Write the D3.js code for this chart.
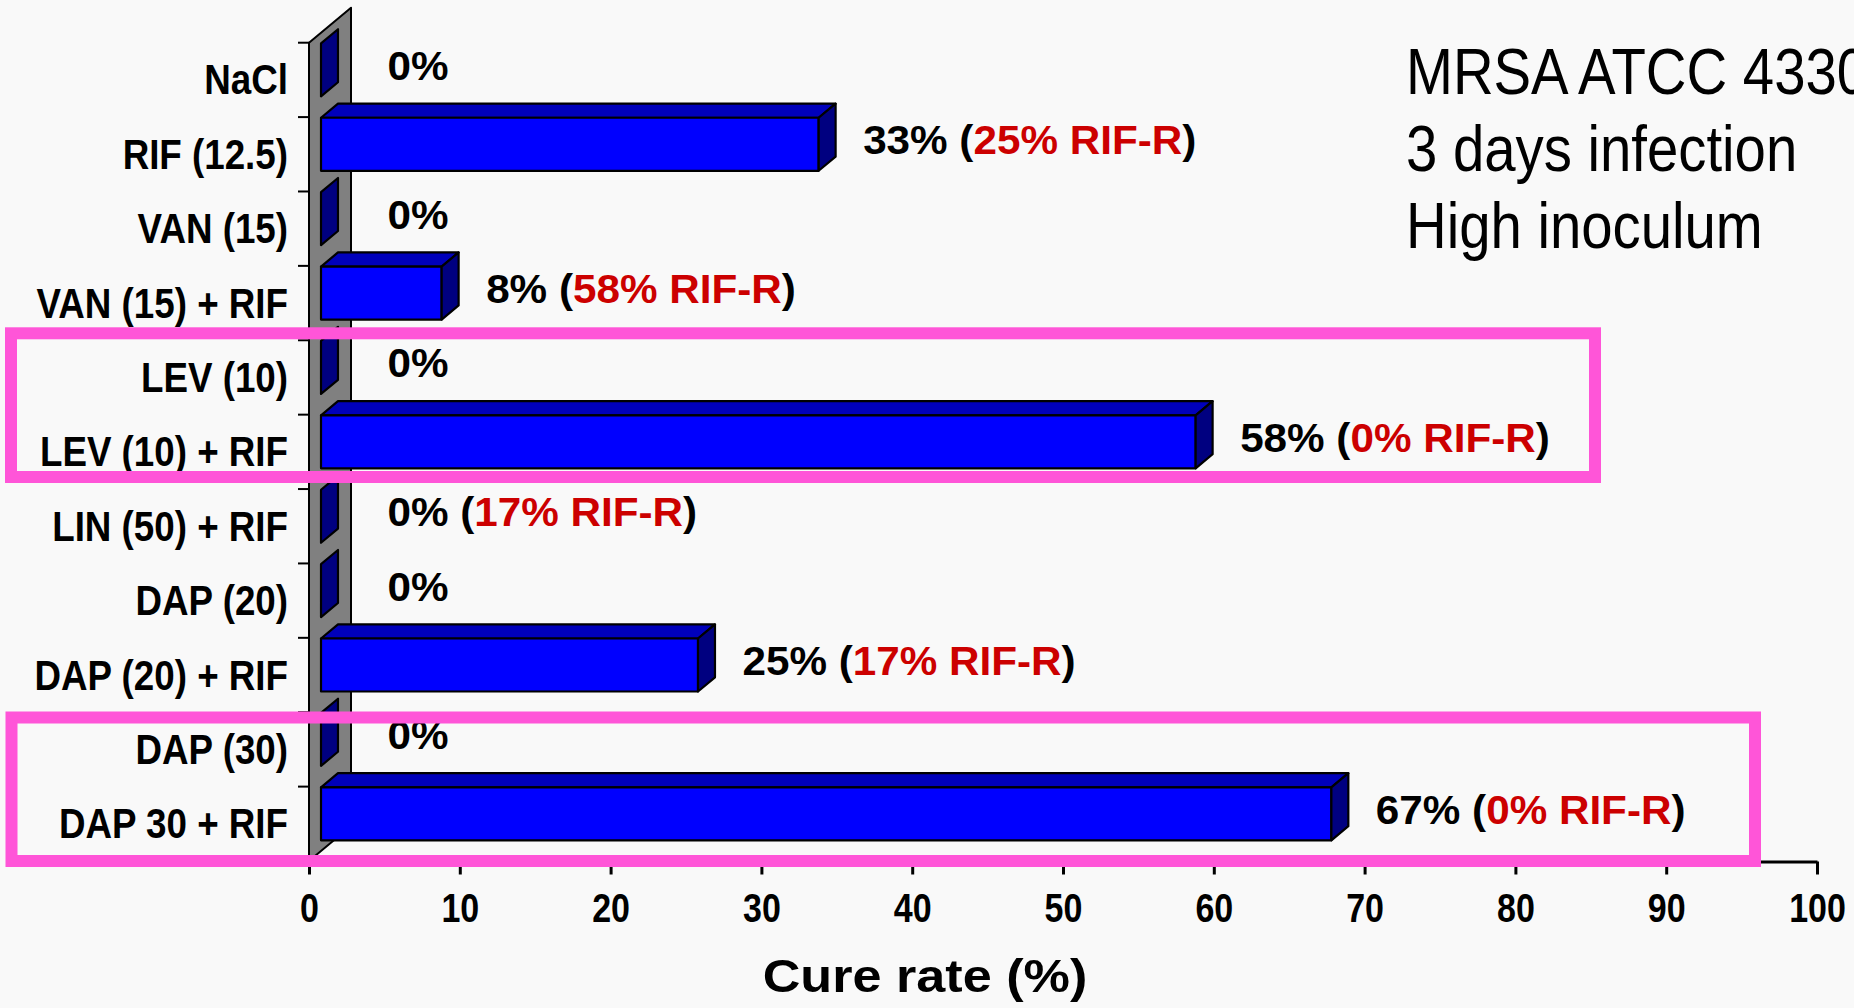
<!DOCTYPE html>
<html>
<head>
<meta charset="utf-8">
<script src="https://cdn.jsdelivr.net/npm/d3@7"></script>
<style>
  html, body { margin: 0; padding: 0; background: #f9f9f9; overflow: hidden; }
  text { font-family: "Liberation Sans", Arial, Helvetica, sans-serif; }
</style>
</head>
<body>
<svg id="chart"></svg>
<script>
// Treatment groups (top to bottom)
const categories = [
  "NaCl", "RIF (12.5)", "VAN (15)", "VAN (15) + RIF", "LEV (10)",
  "LEV (10) + RIF", "LIN (50) + RIF", "DAP (20)", "DAP (20) + RIF",
  "DAP (30)", "DAP 30 + RIF"
];
// Cure rate per group (%)
const cureRate = [0, 33, 0, 8, 0, 58, 0, 0, 25, 0, 67];
// Share of rifampicin-resistant isolates (%), null where not reported
const rifResistant = [null, 25, null, 58, null, 0, 17, null, 17, null, 0];
// Value axis ticks
const xTicks = [0, 10, 20, 30, 40, 50, 60, 70, 80, 90, 100];
// Experiment description
const infoLines = ["MRSA ATCC 43300", "3 days infection", "High inoculum"];

const W = 1854, H = 1008;
const svg = d3.select("#chart").attr("width", W).attr("height", H);
svg.append("rect").attr("width", W).attr("height", H).attr("fill", "#f9f9f9");

const x = d3.scaleLinear().domain([0, 100]).range([309, 1817]);
const y = d3.scaleBand().domain(categories).range([42.7, 861])
  .paddingInner(0.2875).paddingOuter(0.14375);

// Oblique projection for the 3-D look: depth d in [0,1]
const DEPTH = { dx: 42, dy: 35 };
const NEAR = 0.286, FAR = 0.69, MID = (NEAR + FAR) / 2;
const P = (v, yy, d) => [x(v) + d * DEPTH.dx, yy - d * DEPTH.dy];
const pts = arr => arr.map(p => p.join(",")).join(" ");

// Side wall carrying the category axis
const [wTop, wBot] = y.range();
svg.append("polygon")
  .attr("points", pts([P(0, wTop, 0), P(0, wTop, 1), P(0, wBot, 1), P(0, wBot, 0)]))
  .attr("fill", "#808080").attr("stroke", "#000").attr("stroke-width", 2)
  .attr("stroke-linejoin", "round");

// Category tick marks between groups
svg.append("g").selectAll("line")
  .data(d3.range(categories.length + 1))
  .join("line")
  .attr("x1", x(0) - 11).attr("x2", x(0))
  .attr("y1", i => wTop + i * y.step()).attr("y2", i => wTop + i * y.step())
  .attr("stroke", "#000").attr("stroke-width", 2);

// Bars
const rows = categories.map((c, i) => ({ c, v: cureRate[i], r: rifResistant[i] }));
const bars = svg.append("g").selectAll("g").data(rows).join("g");

bars.each(function (d) {
  const g = d3.select(this);
  const yT = y(d.c), yB = yT + y.bandwidth();
  const common = s => s.attr("stroke", "#000").attr("stroke-width", 2.2).attr("stroke-linejoin", "round");
  if (d.v > 0) {
    common(g.append("polygon")
      .attr("points", pts([P(0, yT, NEAR), P(d.v, yT, NEAR), P(d.v, yT, FAR), P(0, yT, FAR)]))
      .attr("fill", "#0000bb"));
    const [fx0, fy0] = P(0, yT, NEAR), [fx1, fy1] = P(d.v, yB, NEAR);
    common(g.append("rect")
      .attr("x", fx0).attr("y", fy0).attr("width", fx1 - fx0).attr("height", fy1 - fy0)
      .attr("fill", "#0000ff"));
  }
  common(g.append("polygon")
    .attr("points", pts([P(d.v, yT, NEAR), P(d.v, yT, FAR), P(d.v, yB, FAR), P(d.v, yB, NEAR)]))
    .attr("fill", "#000080"));
});

// Category labels
svg.append("g").selectAll("text")
  .data(categories)
  .join("text")
  .attr("transform", c => `translate(288,${y(c) + y.bandwidth() / 2 + 14.5}) scale(0.875,1)`)
  .attr("text-anchor", "end")
  .attr("font-size", 42).attr("font-weight", "bold").attr("fill", "#000")
  .text(c => c);

// Value labels: cure rate, with rifampicin resistance in red
const vl = svg.append("g").selectAll("text").data(rows).join("text")
  .attr("transform", d => {
    const lx = P(d.v, 0, MID)[0] + (d.v > 0 ? 36 : 58);
    const ly = y(d.c) + y.bandwidth() / 2;
    return `translate(${lx},${ly}) scale(1.03,1)`;
  })
  .attr("font-size", 41).attr("font-weight", "bold").attr("fill", "#000");
vl.each(function (d) {
  const t = d3.select(this);
  t.append("tspan").text(`${d.v}%`);
  if (d.r !== null) {
    t.append("tspan").text(" (");
    t.append("tspan").attr("fill", "#cc0000").text(`${d.r}% RIF-R`);
    t.append("tspan").text(")");
  }
});

// Value axis
const axisY = 861.5;
const ax = svg.append("g").attr("transform", `translate(0,${axisY})`)
  .call(d3.axisBottom(x).tickValues(xTicks).tickSize(13).tickSizeOuter(0));
ax.select(".domain").attr("stroke", "#000").attr("stroke-width", 3);
ax.selectAll(".tick line").attr("stroke", "#000").attr("stroke-width", 3);
ax.selectAll(".tick text")
  .attr("y", 0).attr("dy", 0)
  .attr("transform", "translate(0,60) scale(0.85,1)")
  .attr("font-family", "'Liberation Sans', Arial, sans-serif")
  .attr("font-size", 40).attr("font-weight", "bold").attr("fill", "#000");

// Axis title
svg.append("text")
  .attr("transform", "translate(925,992) scale(1.11,1)")
  .attr("text-anchor", "middle")
  .attr("font-size", 47).attr("font-weight", "bold").attr("fill", "#000")
  .text("Cure rate (%)");

// Highlight frames around the key comparisons
const frames = [
  { x: 11, y: 333.3, w: 1584, h: 143.7 },
  { x: 11.5, y: 717.5, w: 1743.5, h: 143.5 }
];
svg.append("g").selectAll("rect")
  .data(frames)
  .join("rect")
  .attr("x", d => d.x).attr("y", d => d.y).attr("width", d => d.w).attr("height", d => d.h)
  .attr("fill", "none").attr("stroke", "#ff55d8").attr("stroke-width", 12);

// Experiment description
svg.append("g").selectAll("text")
  .data(infoLines)
  .join("text")
  .attr("transform", (d, i) => `translate(1406,${94 + i * 77}) scale(0.88,1)`)
  .attr("font-size", 64).attr("fill", "#000")
  .text(d => d);
</script>
</body>
</html>
